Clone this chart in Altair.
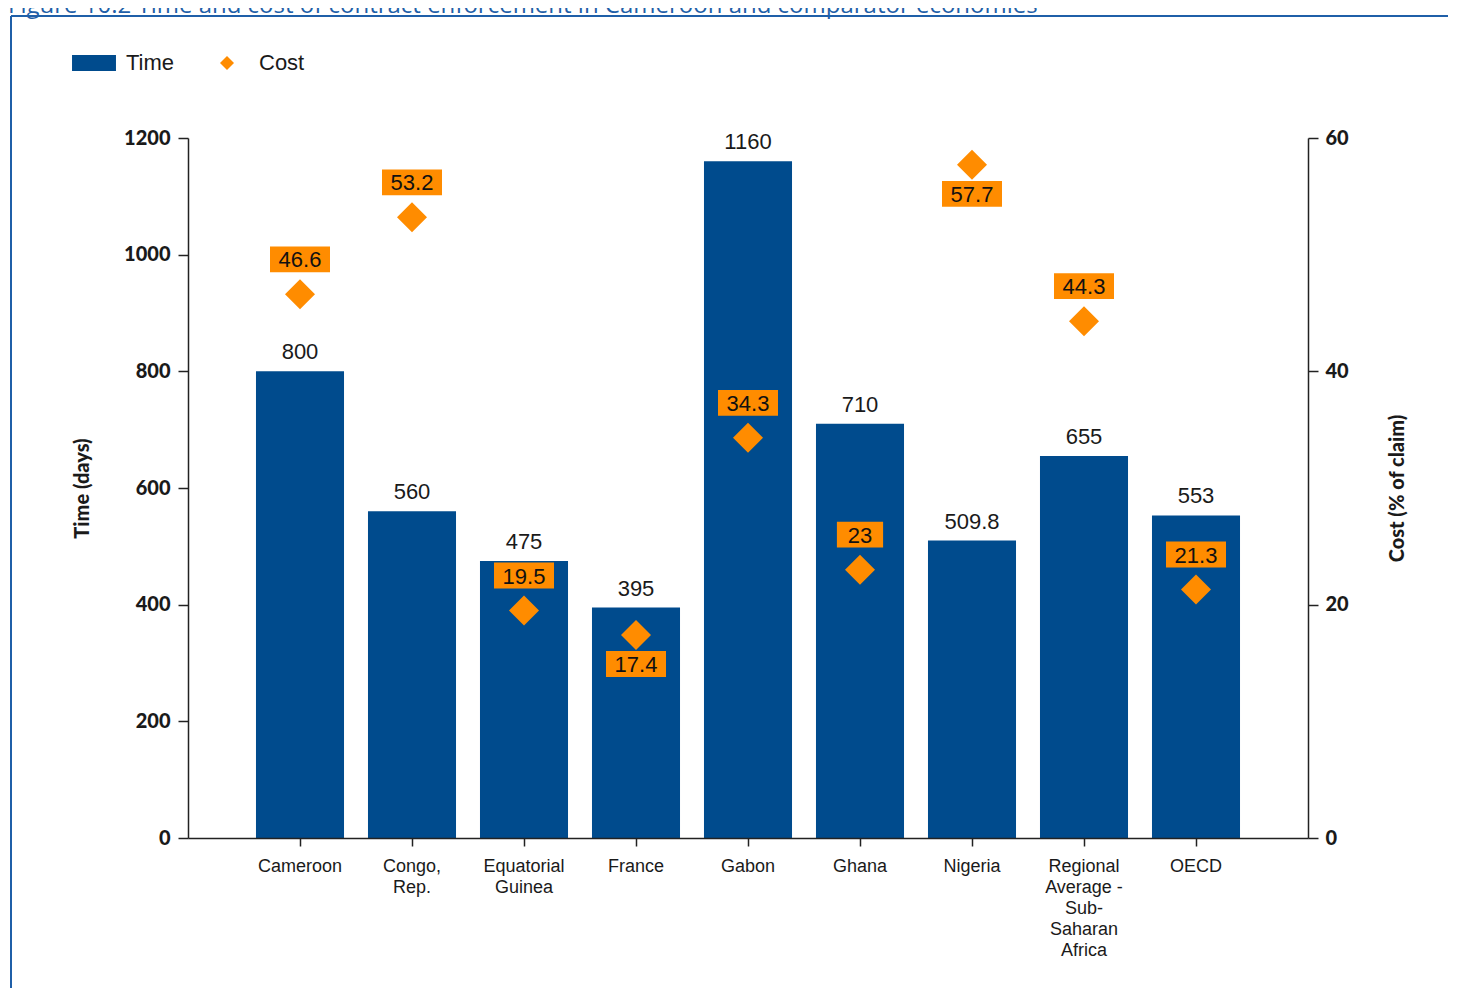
import altair as alt
import pandas as pd

# ---------------- data ----------------
categories = [
    "Cameroon",
    "Congo,\nRep.",
    "Equatorial\nGuinea",
    "France",
    "Gabon",
    "Ghana",
    "Nigeria",
    "Regional\nAverage -\nSub-\nSaharan\nAfrica",
    "OECD",
]
time_days = [800, 560, 475, 395, 1160, 710, 509.8, 655, 553]
cost_pct = [46.6, 53.2, 19.5, 17.4, 34.3, 23, 57.7, 44.3, 21.3]
series = ["Time", "Cost"]
time_ticks = [0, 200, 400, 600, 800, 1000, 1200]
cost_ticks = [0, 20, 40, 60]
labels_below = ["France", "Nigeria"]
fig_title = "Figure 10.2 Time and cost of contract enforcement in Cameroon and comparator economies"

# ---------------- styling ----------------
BLUE = "#004B8D"
ORANGE = "#FF8C00"
FRAME = "#1F5FA8"
INK = "#1a1a1a"
SANS = "Liberation Sans, Arial"
BOLD = "Lato"

RECT_PATH = "M-3.14,-1.14H3.14V1.14H-3.14Z"
BOX4 = "M-1,-0.43H1V0.43H-1Z"
BOX2 = "M-0.77,-0.43H0.77V0.43H-0.77Z"

df = pd.DataFrame({"Country": categories, "Time": time_days, "Cost": cost_pct})

x_enc = alt.X(
    "Country:N",
    sort=categories,
    scale=alt.Scale(paddingInner=0.214, paddingOuter=0.607),
    axis=alt.Axis(
        title=None,
        orient="bottom",
        labelAngle=0,
        labelExpr="split(datum.label, '\\n')",
        labelFont=SANS,
        labelFontSize=18,
        labelColor=INK,
        labelLineHeight=21,
        labelPadding=11,
        labelBaseline="top",
        tickSize=8,
        tickColor="#222",
        domainColor="#222",
        domainWidth=1.5,
        tickWidth=1.5,
        grid=False,
        zindex=1,
    ),
)

color_scale = alt.Scale(domain=series, range=[BLUE, ORANGE])
shape_scale = alt.Scale(domain=series, range=[RECT_PATH, "diamond"])
legend = alt.Legend(
    title=None,
    orient="none",
    legendX=-105,
    legendY=-86,
    direction="horizontal",
    symbolSize=196,
    symbolStrokeWidth=0,
    labelOffset=21,
    columnPadding=41,
    labelFont=SANS,
    labelFontSize=22,
    labelColor=INK,
    padding=0,
)


def y_axis(orient, title, ticks, title_x):
    return alt.Axis(
        orient=orient,
        values=ticks,
        format="d",
        title=title,
        titleFont=BOLD,
        titleFontWeight=900,
        titleFontSize=20,
        titleColor=INK,
        titleAngle=270,
        titleX=title_x,
        titleY=350,
        titleBaseline="middle",
        titleAlign="center",
        labelFont=BOLD,
        labelFontWeight=900,
        labelFontSize=20,
        labelColor=INK,
        labelPadding=8 if orient == "left" else 7,
        tickSize=10,
        tickColor="#222",
        domainColor="#222",
        domainWidth=1.5,
        tickWidth=1.5,
        grid=False,
        zindex=1,
    )


base = alt.Chart(df)

# ---- time (left axis) ----
bars = base.transform_calculate(series="'Time'").mark_bar(color=BLUE).encode(
    x=x_enc,
    y=alt.Y(
        "Time:Q",
        scale=alt.Scale(domain=[0, 1200]),
        axis=y_axis("left", "Time (days)", time_ticks, -106),
    ),
    color=alt.Color("series:N", scale=color_scale, legend=legend),
)
bar_text = base.transform_calculate(lbl="toString(datum.Time)").mark_text(
    baseline="alphabetic", dy=-12, font=SANS, fontSize=22, color=INK
).encode(x=x_enc, y=alt.Y("Time:Q"), text="lbl:N")
time_layer = alt.layer(bars, bar_text)

# ---- cost (right axis) ----
diamonds = base.transform_calculate(series="'Cost'").mark_point(
    filled=True, size=900, opacity=1
).encode(
    x=x_enc,
    y=alt.Y(
        "Cost:Q",
        scale=alt.Scale(domain=[0, 60]),
        axis=y_axis("right", "Cost (% of claim)", cost_ticks, 89),
    ),
    color=alt.Color("series:N", scale=color_scale, legend=legend),
    shape=alt.Shape("series:N", scale=shape_scale, legend=legend),
)

cost_lab = base.transform_calculate(
    lbl="toString(datum.Cost)", below=f"indexof({labels_below}, datum.Country) >= 0"
)
boxes = cost_lab.mark_point(
    filled=True, size=3600, opacity=1, color=ORANGE,
    yOffset=alt.expr("datum.below ? 29 : -35"),
).encode(
    x=x_enc,
    y=alt.Y("Cost:Q"),
    shape=alt.condition("length(datum.lbl) <= 2", alt.value(BOX2), alt.value(BOX4)),
)
box_text = cost_lab.mark_text(
    font=SANS, fontSize=22, color="#111", baseline="middle",
    yOffset=alt.expr("datum.below ? 30 : -34"),
).encode(x=x_enc, y=alt.Y("Cost:Q"), text="lbl:N")
cost_layer = alt.layer(diamonds, boxes, box_text)

# ---- decoration: frame lines and cut-off figure title ----
deco = alt.Chart(pd.DataFrame({"t": [fig_title]}))
frame_top = deco.mark_rule(color=FRAME, strokeWidth=2).encode(
    x=alt.value(-177), x2=alt.value(1500), y=alt.value(-122)
)
frame_left = deco.mark_rule(color=FRAME, strokeWidth=2).encode(
    x=alt.value(-177), y=alt.value(-122), y2=alt.value(1000)
)
title_text = deco.mark_text(
    align="left", baseline="alphabetic", font="Open Sans", fontSize=24, color=FRAME
).encode(x=alt.value(-180), y=alt.value(-125), text="t:N")

chart = (
    alt.layer(frame_top, frame_left, title_text, time_layer, cost_layer)
    .resolve_scale(y="independent")
    .properties(
        width=1120,
        height=700,
        padding={"left": 180, "top": 130, "right": 140, "bottom": 150},
        autosize=alt.AutoSizeParams(type="none"),
        background="white",
    )
    .configure_view(stroke=None)
)

chart.save("out.html", embed_options={"renderer": "svg", "actions": False})
